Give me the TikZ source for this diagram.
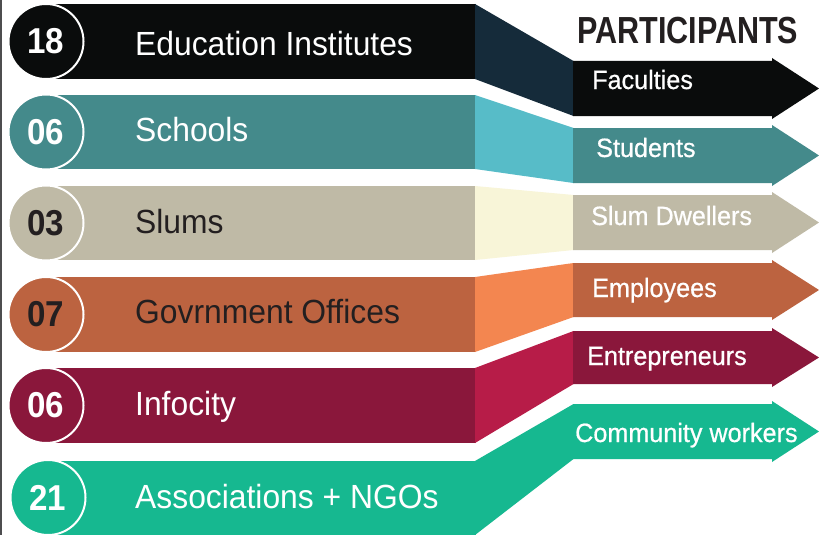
\documentclass[tikz,border=0pt]{standalone}
\usepackage{fontspec}
\setmainfont{Liberation Sans}
\newfontfamily\bandfont[FakeStretch=0.95]{Liberation Sans}
\newfontfamily\arrowfont[FakeStretch=0.95,FakeBold=0.6]{Liberation Sans}
\newfontfamily\numfont[FakeStretch=0.92]{Liberation Sans}
\newfontfamily\titlefont[FakeStretch=0.81]{Liberation Sans}
\definecolor{bandA}{HTML}{0A0C0C}\definecolor{connA}{HTML}{152B3A}
\definecolor{bandB}{HTML}{448A8B}\definecolor{connB}{HTML}{57BCC8}
\definecolor{bandC}{HTML}{BFBAA6}\definecolor{connC}{HTML}{F8F5D8}
\definecolor{bandD}{HTML}{BC6340}\definecolor{connD}{HTML}{F38650}
\definecolor{bandE}{HTML}{8A173B}\definecolor{connE}{HTML}{B71C48}
\definecolor{bandF}{HTML}{16B890}\definecolor{connF}{HTML}{16B890}
\definecolor{darktext}{HTML}{231F20}
\definecolor{edgegray}{HTML}{4D4D4F}
\tikzset{
  numcircle/.style={circle, minimum size=75pt, inner sep=0pt, draw=white, line width=2pt,
    font=\numfont\bfseries\fontsize{36}{38}\selectfont},
  bandtext/.style={anchor=base west, inner sep=0pt, font=\bandfont\fontsize{33.5}{36}\selectfont},
  arrowtext/.style={anchor=base west, inner sep=0pt, font=\arrowfont\fontsize{26.5}{28}\selectfont, text=white},
  titletext/.style={anchor=base west, inner sep=0pt, font=\titlefont\bfseries\fontsize{37.7}{40}\selectfont, text=darktext}
}
\begin{document}
\begin{tikzpicture}[x=1pt,y=-1pt]
\useasboundingbox (0,0) rectangle (819,535);
\fill[white] (0,0) rectangle (819,535);
\fill[edgegray] (0,0) rectangle (2,535);
% bands, connectors, arrows
\foreach \T/\B/\RT/\RB/\col/\con in {
  4/79/61/116/bandA/connA,
  95/169/128/183/bandB/connB,
  186/260/195/250/bandC/connC,
  277/352/263/317/bandD/connD,
  368/443/331/384/bandE/connE,
  461/535/404/459/bandF/connF}{
  \fill[\col] (46,\T) rectangle (476,\B);
  \fill[\con] (475,\T) -- (573.5,\RT) -- (573.5,\RB) -- (475,\B) -- cycle;
  \pgfmathsetmacro\mid{(\RT+\RB)/2}
  \pgfmathsetmacro\ht{\RT-3}
  \pgfmathsetmacro\hb{\RB+3}
  \fill[\col] (573,\RT) -- (772,\RT) -- (772,\ht) -- (819,\mid) -- (772,\hb) -- (772,\RB) -- (573,\RB) -- cycle;
}
% number circles
\node[numcircle, fill=bandA, text=white] (n1) at (46,41.5) {18};
\node[numcircle, fill=bandB, text=white] (n2) at (46,132) {06};
\node[numcircle, fill=bandC, text=darktext] (n3) at (46,223) {03};
\node[numcircle, fill=bandD, text=darktext] (n4) at (46,314.5) {07};
\node[numcircle, fill=bandE, text=white] (n5) at (46,405.5) {06};
\node[numcircle, fill=bandF, text=white] (n6) at (48,497.5) {21};
% band labels
\node[bandtext, text=white] (t1) at (135,56) {Education Institutes};
\node[bandtext, text=white] (t2) at (135,141) {Schools};
\node[bandtext, text=darktext] (t3) at (135,233) {Slums};
\node[bandtext, text=darktext] (t4) at (135,323) {Govrnment Offices};
\node[bandtext, text=white] (t5) at (135,415) {Infocity};
\node[bandtext, text=white] (t6) at (135,508) {Associations + NGOs};
% title
\node[titletext] (title) at (577,44) {PARTICIPANTS};
% arrow labels
\node[arrowtext] (p1) at (592,89) {Faculties};
\node[arrowtext] (p2) at (596,157) {Students};
\node[arrowtext] (p3) at (591,225) {Slum Dwellers};
\node[arrowtext] (p4) at (592,297) {Employees};
\node[arrowtext] (p5) at (587,365) {Entrepreneurs};
\node[arrowtext] (p6) at (575,442) {Community workers};
\end{tikzpicture}
\end{document}
